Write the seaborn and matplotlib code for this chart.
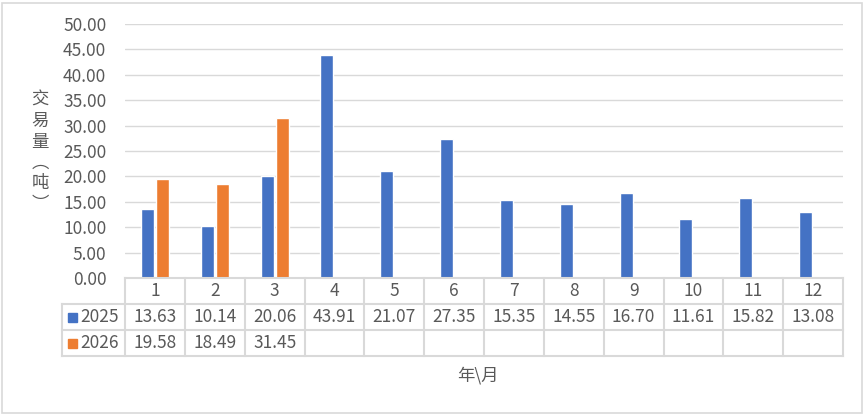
import matplotlib
matplotlib.use("Agg")
import matplotlib.pyplot as plt
import matplotlib.transforms as mtransforms
from matplotlib.patches import Rectangle
import numpy as np
import pandas as pd
import seaborn as sns

months = [str(m) for m in range(1, 13)]
years = ["2025", "2026"]
vals_2025 = [13.63, 10.14, 20.06, 43.91, 21.07, 27.35, 15.35, 14.55, 16.70, 11.61, 15.82, 13.08]
vals_2026 = [19.58, 18.49, 31.45] + [np.nan] * 9
colors = ["#4472C4", "#ED7D31"]

df = pd.DataFrame({
    "month": months * 2,
    "year": [years[0]] * 12 + [years[1]] * 12,
    "value": vals_2025 + vals_2026,
})

sns.set_style("white")
plt.rcParams["font.family"] = ["Noto Sans CJK SC", "DejaVu Sans"]
TXT = "#595959"
GRID = "#D9D9D9"
FS = 12.5

W, H = 865, 415
fig = plt.figure(figsize=(W / 100, H / 100), dpi=100)
x0, x1, y0, y1 = 125, 843, 278, 24
ax = fig.add_axes([x0 / W, 1 - y0 / H, (x1 - x0) / W, (y0 - y1) / H])

sns.barplot(data=df, x="month", y="value", hue="year", order=months,
            hue_order=years, palette=colors, width=0.5, gap=0.13,
            legend=False, ax=ax, saturation=1)

ax.set_ylim(0, 50)
ax.set_xlim(-0.5, 11.5)
ax.set_yticks(np.arange(0, 50.1, 5))
ax.set_yticklabels([f"{v:.2f}" for v in np.arange(0, 50.1, 5)])
ax.tick_params(axis="y", length=0, colors=TXT, labelsize=FS, pad=13.5)
ax.set_xticks([])
ax.set_xlabel("")
ax.set_ylabel("")
ax.yaxis.grid(True, color=GRID, lw=1)
ax.set_axisbelow(True)
for s in ax.spines.values():
    s.set_visible(False)

# data table under the axis
row_h = 26 / (y0 - y1)
trans = mtransforms.blended_transform_factory(ax.transData, ax.transAxes)
left_edge = (62 - x0) / (x1 - x0)
lkw = dict(color=GRID, lw=1.5, clip_on=False, solid_capstyle="projecting")
ax.plot([-0.5, 11.5], [0, 0], transform=trans, **lkw)
for k in (1, 2, 3):
    ax.plot([left_edge, 1], [-k * row_h, -k * row_h], transform=ax.transAxes, **lkw)
for i in range(13):
    ax.plot([i - 0.5, i - 0.5], [0, -3 * row_h], transform=trans, **lkw)
ax.plot([left_edge, left_edge], [-row_h, -3 * row_h], transform=ax.transAxes, **lkw)

for i, m in enumerate(months):
    ax.text(i, -0.5 * row_h, m, transform=trans, ha="center", va="center",
            color=TXT, fontsize=FS)
    for r, vals in enumerate([vals_2025, vals_2026]):
        v = vals[i]
        if not np.isnan(v):
            ax.text(i, -(r + 1.5) * row_h, f"{v:.2f}", transform=trans,
                    ha="center", va="center", color=TXT, fontsize=FS)

sq = 9 / (x1 - x0)
for r, (yr, c) in enumerate(zip(years, colors)):
    yc = -(r + 1.5) * row_h
    ax.add_patch(Rectangle(((68 - x0) / (x1 - x0), yc - 4.5 / (y0 - y1)), sq,
                           9 / (y0 - y1), transform=ax.transAxes, color=c,
                           clip_on=False))
    ax.text((80 - x0) / (x1 - x0), yc, yr, transform=ax.transAxes,
            ha="left", va="center", color=TXT, fontsize=FS)

fig.text(478 / W, 1 - 375 / H, "年\\月", ha="center", va="center",
         color=TXT, fontsize=12.5)
fig.text(40 / W, 1 - 152 / H, "交\n易\n量\n︵\n吨\n︶", ha="center",
         va="center", color=TXT, fontsize=12.5, linespacing=1.2)

fig.patches.append(Rectangle((2 / W, 2 / H), (W - 5) / W, (H - 5) / H,
                             transform=fig.transFigure, fill=False,
                             edgecolor=GRID, lw=1.2))

fig.savefig("out.png", dpi=100)
plt.close(fig)
